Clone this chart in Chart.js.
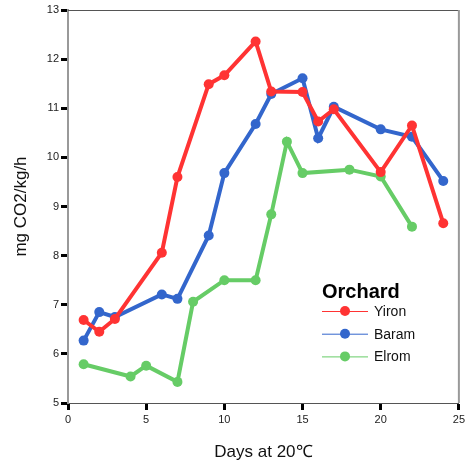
<!DOCTYPE html>
<html>
<head>
<meta charset="utf-8">
<script src="https://cdn.jsdelivr.net/npm/chart.js@4/dist/chart.umd.min.js"></script>
<style>
  html, body { margin: 0; padding: 0; background: #fff; }
  #wrap { width: 468px; height: 466px; }
</style>
</head>
<body>
<div id="wrap"><canvas id="chart" width="468" height="466"></canvas></div>
<script>
// values
const seriesNames = ['Yiron', 'Baram', 'Elrom'];
const seriesColors = ['#ff3333', '#3366cc', '#66cc66'];

const yironDays = [1, 2, 3, 6, 7, 9, 10, 12, 13, 15, 16, 17, 20, 22, 24];
const yironVals = [6.69, 6.45, 6.71, 8.06, 9.6, 11.49, 11.67, 12.36, 11.34, 11.33, 10.73, 10.98, 9.7, 10.65, 8.66];

const baramDays = [1, 2, 3, 6, 7, 9, 10, 12, 13, 15, 16, 17, 20, 22, 24];
const baramVals = [6.27, 6.85, 6.75, 7.21, 7.12, 8.41, 9.68, 10.68, 11.29, 11.61, 10.39, 11.03, 10.57, 10.42, 9.52];

const elromDays = [1, 4, 5, 7, 8, 10, 12, 13, 14, 15, 18, 20, 22];
const elromVals = [5.79, 5.54, 5.76, 5.43, 7.06, 7.5, 7.5, 8.84, 10.32, 9.68, 9.75, 9.61, 8.59];

const xTicks = [0, 5, 10, 15, 20, 25];
const yTicks = [5, 6, 7, 8, 9, 10, 11, 12, 13];

const font = "'Liberation Sans', Arial, Helvetica, sans-serif";

function pts(days, vals) {
  return days.map((d, i) => ({ x: d, y: vals[i] }));
}

const allDays = [yironDays, baramDays, elromDays];
const allVals = [yironVals, baramVals, elromVals];

const datasets = seriesNames.map((name, i) => ({
  label: name,
  data: pts(allDays[i], allVals[i]),
  borderColor: seriesColors[i],
  backgroundColor: seriesColors[i],
  borderWidth: 4,
  pointRadius: 5,
  pointBorderWidth: 0,
  pointBackgroundColor: seriesColors[i],
  tension: 0
}));

// box on top/right + legend drawn inside the plot
const frameAndLegend = {
  id: 'frameAndLegend',
  afterDraw(chart) {
    const { ctx, chartArea: a } = chart;
    ctx.save();
    ctx.strokeStyle = '#555';
    ctx.lineWidth = 1;
    ctx.beginPath();
    ctx.moveTo(a.left, a.top + 0.5);
    ctx.lineTo(a.right, a.top + 0.5);
    ctx.stroke();
    ctx.strokeStyle = '#999';
    ctx.lineWidth = 2;
    ctx.beginPath();
    ctx.moveTo(a.right, a.top);
    ctx.lineTo(a.right, a.bottom);
    ctx.stroke();

    const lx = 322, ly = 298;
    ctx.fillStyle = '#000';
    ctx.font = 'bold 20px ' + font;
    ctx.textBaseline = 'alphabetic';
    ctx.fillText('Orchard', lx, ly);
    ctx.font = '14px ' + font;
    ctx.textBaseline = 'middle';
    chart.data.datasets.forEach((ds, i) => {
      const y = 311 + i * 22.7;
      ctx.strokeStyle = ds.borderColor;
      ctx.lineWidth = 1;
      ctx.beginPath();
      ctx.moveTo(lx, y + 0.5);
      ctx.lineTo(lx + 46, y + 0.5);
      ctx.stroke();
      ctx.fillStyle = ds.borderColor;
      ctx.beginPath();
      ctx.arc(lx + 23, y, 5, 0, Math.PI * 2);
      ctx.fill();
      ctx.fillStyle = '#111';
      ctx.fillText(ds.label, lx + 52, y + 1);
    });
    ctx.restore();
  }
};

new Chart(document.getElementById('chart'), {
  type: 'line',
  data: { datasets },
  options: {
    responsive: false,
    animation: false,
    layout: { padding: { top: 10, right: 8, left: 0, bottom: 0 } },
    plugins: { legend: { display: false }, tooltip: { enabled: false } },
    scales: {
      x: {
        type: 'linear',
        min: 0, max: 25,
        afterFit(s) { s.height = 63; },
        afterBuildTicks(s) { s.ticks = xTicks.map(v => ({ value: v })); },
        grid: { drawOnChartArea: false, drawTicks: true, tickLength: 7, tickWidth: 3, tickColor: '#000' },
        border: { display: true, color: '#555', width: 1 },
        ticks: { color: '#222', font: { family: font, size: 11 }, padding: 3, maxRotation: 0 },
        title: { display: true, text: 'Days at 20℃', color: '#111', font: { family: font, size: 17 }, padding: { bottom: 3 } }
      },
      y: {
        type: 'linear',
        min: 5, max: 13,
        afterFit(s) { s.width = 68; },
        afterBuildTicks(s) { s.ticks = yTicks.map(v => ({ value: v })); },
        grid: { drawOnChartArea: false, drawTicks: true, tickLength: 7, tickWidth: 3, tickColor: '#000' },
        border: { display: true, color: '#999', width: 2 },
        ticks: { color: '#222', font: { family: font, size: 11 }, padding: 2 },
        title: { display: true, text: 'mg CO2/kg/h', color: '#111', font: { family: font, size: 17 }, padding: { top: 11 } }
      }
    }
  },
  plugins: [frameAndLegend]
});
</script>
</body>
</html>
